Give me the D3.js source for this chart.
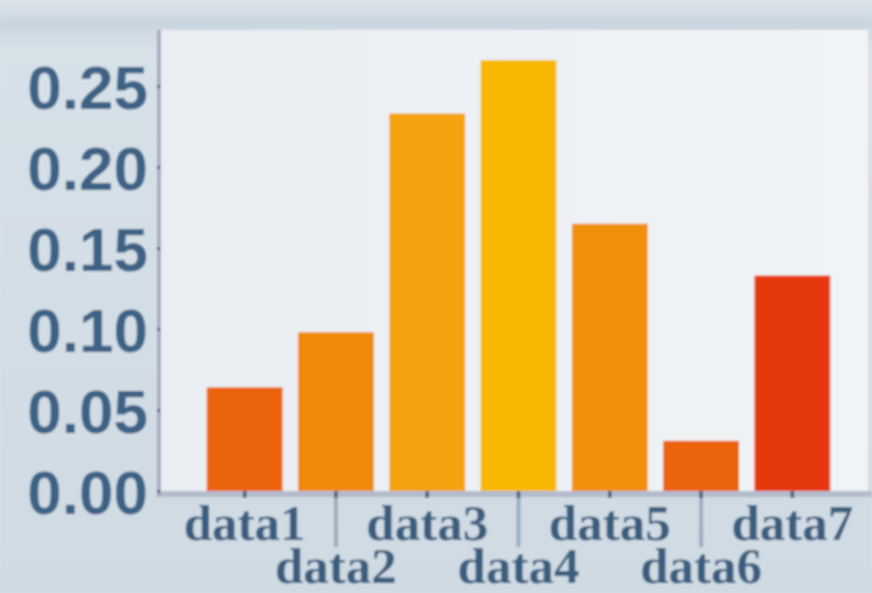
<!DOCTYPE html>
<html><head><meta charset="utf-8">
<script src="https://cdn.jsdelivr.net/npm/d3@7"></script>
<style>html,body{margin:0;padding:0;overflow:hidden;background:#d6e0e8}</style>
</head><body>
<svg id="c" width="872" height="593"></svg>
<script>
const categories = ["data1","data2","data3","data4","data5","data6","data7"];
const values = [0.064, 0.098, 0.233, 0.266, 0.165, 0.031, 0.133];
const barColors = ["#ec6408","#f08a08","#f4a20c","#f7b800","#f2900a","#eb640a","#e6380e"];
const yTicks = [0, 0.05, 0.10, 0.15, 0.20, 0.25];

(function(){
const svg = d3.select("#c");
const defs = svg.append("defs");
const bg = defs.append("linearGradient").attr("id","bg").attr("x1",0).attr("y1",0).attr("x2",0).attr("y2",1);
bg.append("stop").attr("offset","0").attr("stop-color","#dde5eb");
bg.append("stop").attr("offset","0.04").attr("stop-color","#c9d5df");
bg.append("stop").attr("offset","0.08").attr("stop-color","#d7e1e8");
bg.append("stop").attr("offset","1").attr("stop-color","#cfdae3");
const pg = defs.append("linearGradient").attr("id","pg").attr("x1",0).attr("y1",0).attr("x2",1).attr("y2",0);
pg.append("stop").attr("offset","0").attr("stop-color","#e9eef2");
pg.append("stop").attr("offset","1").attr("stop-color","#f1f4f6");
defs.append("filter").attr("id","blur").attr("x","-5%").attr("y","-5%").attr("width","110%").attr("height","110%")
  .append("feGaussianBlur").attr("stdDeviation",1.3);

const root = svg.append("g").attr("filter","url(#blur)");
root.append("rect").attr("width",872).attr("height",593).attr("fill","url(#bg)");

const pLeft = 160, pRight = 868, pTop = 30, pBottom = 491;
const x = d3.scaleBand().domain(categories).range([199, 838]).paddingInner(0.17).paddingOuter(0.085);
const y = d3.scaleLinear().domain([0, 0.2846]).range([pBottom, pTop]);

root.append("rect").attr("x",pLeft).attr("y",pTop).attr("width",pRight-pLeft).attr("height",pBottom-pTop).attr("fill","url(#pg)");

root.selectAll("rect.bar").data(values).join("rect").attr("class","bar")
  .attr("x",(d,i)=>x(categories[i])).attr("width",x.bandwidth())
  .attr("y",d=>y(d)).attr("height",d=>y(0)-y(d))
  .attr("fill",(d,i)=>barColors[i]);

root.append("rect").attr("x",pLeft).attr("y",pBottom).attr("width",pRight-pLeft+4).attr("height",6).attr("fill","#b3bccb");
root.append("rect").attr("x",pLeft-3).attr("y",pTop).attr("width",4).attr("height",pBottom-pTop+6).attr("fill","#a9acc3");

const ya = root.append("g").attr("transform",`translate(${pLeft},0)`)
  .call(d3.axisLeft(y).tickValues(yTicks).tickFormat(d3.format(".2f")).tickSize(3).tickPadding(9));
ya.select(".domain").remove();
ya.selectAll(".tick line").attr("stroke","#3b5a78").attr("stroke-width",3);
ya.selectAll(".tick text").attr("fill","#3d6285").style("font-family","'Liberation Sans',Arial,sans-serif")
  .style("font-weight","bold").style("font-size","62px").attr("dy","0.36em");

const xa = root.append("g").attr("transform",`translate(0,${pBottom})`)
  .call(d3.axisBottom(x).tickSize(7).tickPadding(0));
xa.select(".domain").remove();
xa.selectAll(".tick line").attr("stroke","#44607c").attr("stroke-width",3.5);
xa.selectAll(".tick").each(function(d,i){
  if (i % 2 === 1) {
    d3.select(this).insert("line",":first-child").attr("x1",0).attr("x2",0).attr("y1",6).attr("y2",56)
      .attr("stroke","#9aaec0").attr("stroke-width",4);
  }
});
xa.selectAll(".tick text").attr("fill","#3b5d7e").style("font-family","'Liberation Serif','Times New Roman',serif")
  .style("font-weight","bold").style("font-size","51px")
  .attr("dy",null).attr("y",(d,i)=> i%2===0 ? 49 : 92);
})();
</script>
</body></html>
